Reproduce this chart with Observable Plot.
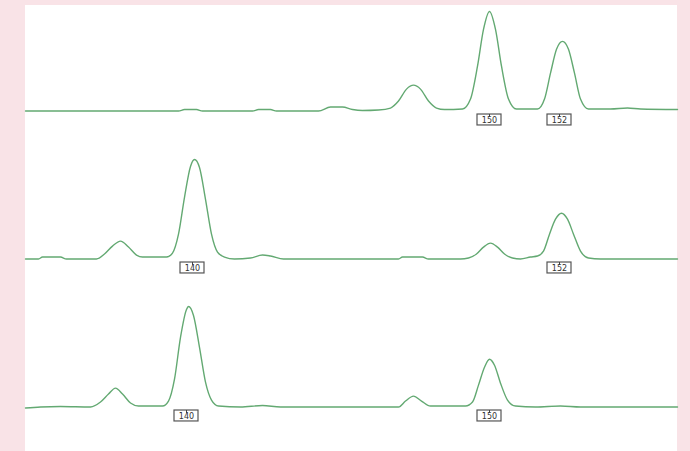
<!DOCTYPE html>
<html>
<head>
<meta charset="utf-8">
<script src="https://cdn.jsdelivr.net/npm/d3@7"></script>
<script src="https://cdn.jsdelivr.net/npm/@observablehq/plot@0.6"></script>
<style>
  html, body { margin: 0; padding: 0; background: #f9e3e7; }
  #chart { width: 690px; height: 451px; position: relative; }
  #chart::before { content: ""; position: absolute; left: 25px; top: 5px; width: 652px; height: 446px; background: #ffffff; }
  #chart svg { position: relative; }
</style>
</head>
<body>
<div id="chart"></div>
<script>
// Scan positions and signal intensities (relative units)
const trace1X = [25,178,184,196,202,252,258,270,276,318,330,342,352,362,378,390,398,406,413,420,428,436,444,462,470,477,483,489,495,501,508,516,537,544,550,556,562,568,574,580,588,610,627,640,677];
const trace1Y = [0,0,1.5,1.5,0,0,1.5,1.5,0,0,4,4,1.5,0.5,1,3,10,22,26,22,10,3,1.5,2,12,45,82,100,82,45,12,2,2,12,38,62,70,62,38,12,2,2,3,2,1.5];

const trace2X = [25,38,42,60,66,96,104,112,120,128,136,142,166,172,178,184,190,194,199,205,211,217,224,234,250,262,270,283,398,402,422,428,460,468,476,483,490,497,504,512,520,530,537,543,549,555,561,567,573,580,588,600,677];
const trace2Y = [0,0,2,2,0,0,5,13,18,12,4,2,2,6,25,62,93,100,92,60,25,7,2,0,1,4,3,0,0,2,2,0,0,1,5,12,16,12,5,1,0,2,3,8,25,40,46,40,25,8,1,0,0];

const trace3X = [25,40,60,90,100,108,115,122,130,138,162,168,174,180,186,188,193,199,205,211,218,240,262,280,398,405,413,421,430,465,472,478,484,489,494,500,507,515,535,560,580,677];
const trace3Y = [-1,0,0.5,0,5,13,19,13,4,1,1,6,28,70,98,101,92,60,25,7,1,0,1.5,0,0,6,11,6,1,1,5,22,40,48,42,24,7,1,0,1,0,0];

// Allele size labels
const traceNames = ["A", "B", "C"];
const labelTrace = ["A", "A", "B", "B", "C", "C"];
const labelX = [489, 559, 192, 559, 186, 489];
const labelText = ["150", "152", "140", "152", "140", "150"];

const traces = [
  {name: traceNames[0], xs: trace1X, ys: trace1Y},
  {name: traceNames[1], xs: trace2X, ys: trace2Y},
  {name: traceNames[2], xs: trace3X, ys: trace3Y}
];
const rows = traces.flatMap(t => t.xs.map((x, i) => ({trace: t.name, x, v: t.ys[i]})));
const labels = labelX.map((x, i) => ({trace: labelTrace[i], x, text: labelText[i]}));

const labelY = -9;
const plot = Plot.plot({
  width: 690,
  height: 451,
  marginLeft: 25,
  marginRight: 13,
  marginTop: 5,
  marginBottom: 0,
  style: {background: "transparent", fontFamily: "DejaVu Sans, sans-serif"},
  x: {domain: [25, 677], axis: null},
  y: {domain: [-43.667, 105], axis: null},
  fy: {domain: traceNames, padding: 0, axis: null},
  marks: [
    Plot.line(rows, {x: "x", y: "v", fy: "trace", stroke: "#63a972", strokeWidth: 1.4, curve: "monotone-x"}),
    Plot.rect(labels, {x1: d => d.x - 12, x2: d => d.x + 12, y1: () => labelY - 5.5, y2: () => labelY + 5.5, fy: "trace", fill: "white", stroke: "#555", strokeWidth: 1.2}),
    Plot.ruleX(labels, {x: "x", y1: () => labelY + 5.5, y2: () => labelY + 2.5, fy: "trace", stroke: "#444", strokeWidth: 1}),
    Plot.text(labels, {x: "x", y: () => labelY - 0.5, text: "text", fy: "trace", fontSize: 8, fill: "#333"})
  ]
});
document.getElementById("chart").appendChild(plot);
</script>
</body>
</html>
